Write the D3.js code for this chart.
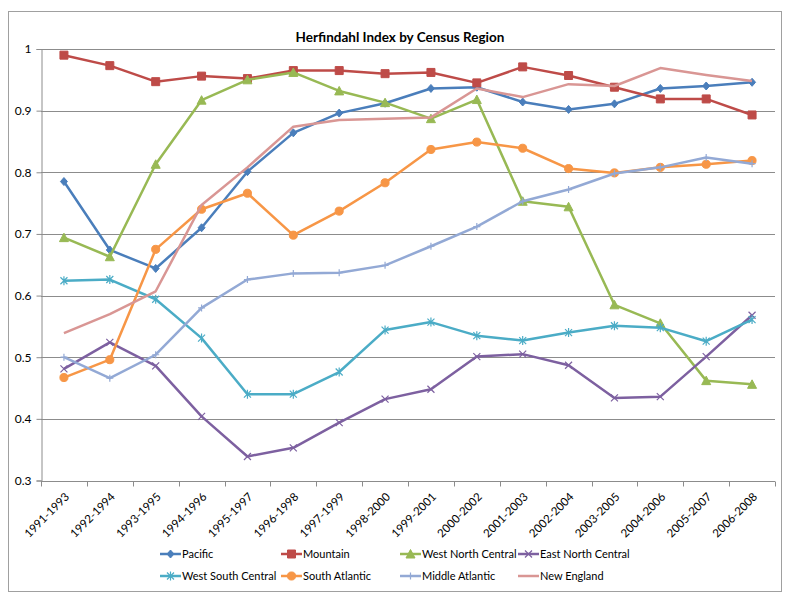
<!DOCTYPE html>
<html>
<head>
<meta charset="utf-8">
<script src="https://cdn.jsdelivr.net/npm/d3@7"></script>
<style>
  html, body { margin: 0; padding: 0; background: #fff; }
  svg { display: block; }
  text { font-family: Lato, "Open Sans", sans-serif; fill: #000; }
</style>
</head>
<body>
<svg id="chart" width="795" height="601"></svg>
<script>
const title = "Herfindahl Index by Census Region";
const categories = ["1991-1993","1992-1994","1993-1995","1994-1996","1995-1997","1996-1998","1997-1999","1998-2000","1999-2001","2000-2002","2001-2003","2002-2004","2003-2005","2004-2006","2005-2007","2006-2008"];
const yTicks = [0.3, 0.4, 0.5, 0.6, 0.7, 0.8, 0.9, 1];
const yTickLabels = ["0.3","0.4","0.5","0.6","0.7","0.8","0.9","1"];

const seriesNames = ["Pacific","Mountain","West North Central","East North Central","West South Central","South Atlantic","Middle Atlantic","New England"];
const pacific          = [0.785,0.674,0.644,0.710,0.801,0.864,0.896,0.912,0.936,0.938,0.914,0.902,0.911,0.936,0.940,0.946];
const mountain         = [0.990,0.973,0.947,0.956,0.952,0.965,0.965,0.960,0.962,0.945,0.971,0.957,0.938,0.919,0.919,0.893];
const westNorthCentral = [0.694,0.663,0.813,0.917,0.950,0.962,0.932,0.913,0.887,0.918,0.753,0.744,0.585,0.555,0.462,0.456];
const eastNorthCentral = [0.481,0.524,0.486,0.404,0.339,0.353,0.394,0.432,0.448,0.501,0.505,0.487,0.434,0.436,0.501,0.568];
const westSouthCentral = [0.624,0.626,0.594,0.531,0.440,0.440,0.476,0.544,0.557,0.535,0.527,0.540,0.551,0.548,0.526,0.561];
const southAtlantic    = [0.467,0.496,0.675,0.740,0.766,0.698,0.737,0.783,0.837,0.849,0.839,0.806,0.799,0.808,0.813,0.819];
const middleAtlantic   = [0.500,0.466,0.504,0.580,0.626,0.636,0.637,0.649,0.680,0.712,0.753,0.772,0.798,0.808,0.824,0.814];
const newEngland       = [0.539,0.570,0.607,0.747,0.808,0.874,0.885,0.887,0.889,0.936,0.922,0.943,0.940,0.969,0.958,0.948];
const seriesValues = [pacific, mountain, westNorthCentral, eastNorthCentral, westSouthCentral, southAtlantic, middleAtlantic, newEngland];
const seriesColors = ["#4A7EBB","#BE4B48","#98B954","#7D60A0","#4BACC6","#F79646","#93A9D5","#D99694"];
const seriesMarkers = ["diamond","square","triangle","x","asterisk","circle","plus","none"];

const svg = d3.select("#chart");
const plot = {left: 41, right: 775, top: 49, bottom: 480.5};

// chart border
svg.append("rect").attr("x", 8.5).attr("y", 11.5).attr("width", 773).attr("height", 580)
  .attr("fill", "#fff").attr("stroke", "#a0a0a0").attr("stroke-width", 1);

// title
svg.append("text").attr("x", 400).attr("y", 42).attr("text-anchor", "middle")
  .style("font-weight", "bold").style("font-size", "13.5px").text(title);

const x = d3.scalePoint().domain(categories).range([plot.left, plot.right]).padding(0.5);
const xBand = d3.scaleBand().domain(categories).range([plot.left, plot.right]);
const y = d3.scaleLinear().domain([0.3, 1]).range([plot.bottom, plot.top]);

// gridlines
svg.append("g").selectAll("line").data(yTicks.filter(t => t > 0.3)).join("line")
  .attr("x1", plot.left).attr("x2", plot.right)
  .attr("y1", d => Math.round(y(d)) + 0.5).attr("y2", d => Math.round(y(d)) + 0.5)
  .attr("stroke", "#8c8c8c").attr("stroke-width", 1);

// y axis
const yAxis = d3.axisLeft(y).tickValues(yTicks).tickFormat((d, i) => yTickLabels[i]).tickSize(5).tickPadding(5);
const gy = svg.append("g").attr("transform", `translate(${plot.left + 0.5},0)`).call(yAxis);
gy.select(".domain").attr("stroke", "#8c8c8c");
gy.selectAll(".tick line").attr("stroke", "#8c8c8c");
gy.selectAll(".tick text").style("font-size", "12px").style("font-family", "Lato, 'Open Sans', sans-serif");

// x axis
const gx = svg.append("g").attr("transform", `translate(0,${Math.round(plot.bottom) + 0.5})`);
gx.append("line").attr("x1", plot.left).attr("x2", plot.right).attr("stroke", "#8c8c8c");
const tickPos = categories.map(c => xBand(c)).concat([plot.right]);
gx.selectAll("line.tk").data(tickPos).join("line").attr("class", "tk")
  .attr("x1", d => Math.round(d) + 0.5).attr("x2", d => Math.round(d) + 0.5)
  .attr("y1", 0).attr("y2", 5).attr("stroke", "#8c8c8c");
gx.selectAll("text").data(categories).join("text")
  .attr("transform", d => `translate(${x(d) + 6},${16}) rotate(-45)`)
  .attr("text-anchor", "end").style("font-size", "11.5px").text(d => d);

// markers
function markerPath(type, s) {
  const h = s / 2;
  switch (type) {
    case "diamond": return `M0,${-h-0.5}L${h},0L0,${h+0.5}L${-h},0Z`;
    case "square": return `M${-h},${-h}h${s}v${s}h${-s}Z`;
    case "triangle": return `M0,${-h-0.5}L${h+0.5},${h}L${-h-0.5},${h}Z`;
    case "circle": return d3.symbol(d3.symbolCircle, s * s * 0.8)();
    case "x": return `M${-h},${-h}L${h},${h}M${-h},${h}L${h},${-h}`;
    case "asterisk": return `M${-h},${-h}L${h},${h}M${-h},${h}L${h},${-h}M0,${-h-1}L0,${h+1}`;
    case "plus": return `M${-h},0L${h},0M0,${-h}L0,${h}`;
    default: return "";
  }
}
const markerSize = {diamond: 7, square: 8, triangle: 8, circle: 8, x: 7, asterisk: 7, plus: 7, none: 0};
const filled = {diamond: true, square: true, triangle: true, circle: true};

const line = d3.line().x((d, i) => x(categories[i])).y(d => y(d));

seriesValues.forEach((vals, si) => {
  const g = svg.append("g");
  const col = seriesColors[si];
  g.append("path").datum(vals).attr("d", line).attr("fill", "none")
    .attr("stroke", col).attr("stroke-width", 2.5).attr("stroke-linejoin", "round");
  const m = seriesMarkers[si];
  if (m !== "none") {
    g.selectAll("path.mk").data(vals).join("path").attr("class", "mk")
      .attr("transform", (d, i) => `translate(${x(categories[i])},${y(d)})`)
      .attr("d", markerPath(m, markerSize[m]))
      .attr("fill", filled[m] ? col : "none")
      .attr("stroke", col).attr("stroke-width", filled[m] ? 1 : 1.2);
  }
});

// legend
const legendCols = [160, 281, 400, 518];
const legendRows = [554, 576];
seriesNames.forEach((name, i) => {
  const lx = legendCols[i % 4], ly = legendRows[Math.floor(i / 4)];
  const g = svg.append("g").attr("transform", `translate(${lx},${ly})`);
  const col = seriesColors[i];
  g.append("line").attr("x1", 0).attr("x2", 21).attr("y1", 0).attr("y2", 0)
    .attr("stroke", col).attr("stroke-width", 2.5);
  const m = seriesMarkers[i];
  if (m !== "none") {
    g.append("path").attr("transform", "translate(10.5,0)").attr("d", markerPath(m, markerSize[m]))
      .attr("fill", filled[m] ? col : "none").attr("stroke", col).attr("stroke-width", filled[m] ? 1 : 1.2);
  }
  g.append("text").attr("x", 22).attr("y", 4).style("font-size", "11px").text(name);
});
</script>
</body>
</html>
